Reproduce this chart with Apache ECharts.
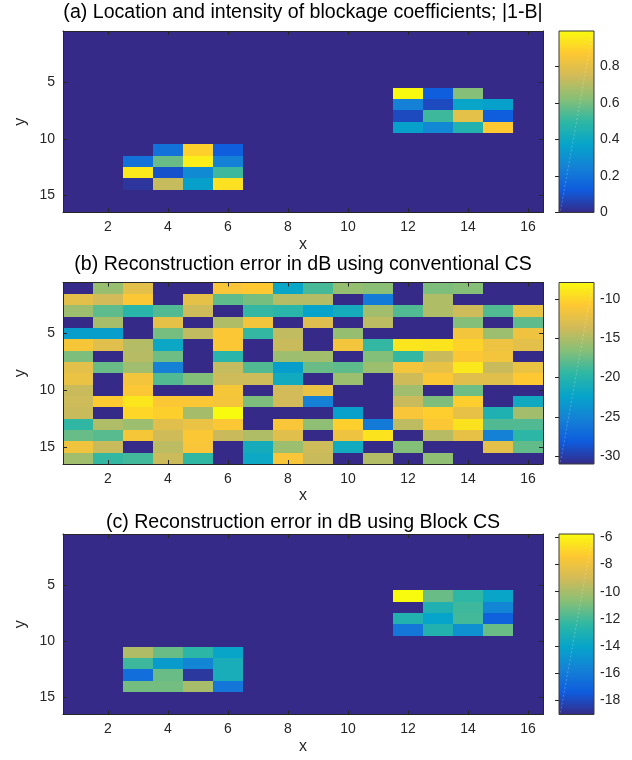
<!DOCTYPE html>
<html>
<head>
<meta charset="utf-8">
<script src="https://cdn.jsdelivr.net/npm/echarts@6/dist/echarts.min.js"></script>
<style>
html,body{margin:0;padding:0;background:#fff;}
#chart{width:632px;height:760px;}
</style>
</head>
<body>
<div id="chart"></div>
<script>
// ---------- data ----------
const xCategories = ['1','2','3','4','5','6','7','8','9','10','11','12','13','14','15','16'];
const yCategories = ['1','2','3','4','5','6','7','8','9','10','11','12','13','14','15','16'];
const xTickLabels = ['2','4','6','8','10','12','14','16'];
const yTickLabels = ['5','10','15'];

const panelTitles = [
  '(a) Location and intensity of blockage coefficients; |1-B|',
  '(b) Reconstruction error in dB using conventional CS',
  '(c) Reconstruction error in dB using Block CS'
];

const rangeA = [0, 0.995];
const rangeB = [-31.0, -7.9];
const rangeC = [-19.05, -5.75];

const cbarTicksA = [0, 0.2, 0.4, 0.6, 0.8];
const cbarTicksB = [-30, -25, -20, -15, -10];
const cbarTicksC = [-18, -16, -14, -12, -10, -8, -6];

// (a) |1-B| : rows are y = 1..16, columns x = 1..16
const blockageA = [
  [0,0,0,0,0,0,0,0,0,0,0,0,0,0,0,0],
  [0,0,0,0,0,0,0,0,0,0,0,0,0,0,0,0],
  [0,0,0,0,0,0,0,0,0,0,0,0,0,0,0,0],
  [0,0,0,0,0,0,0,0,0,0,0,0,0,0,0,0],
  [0,0,0,0,0,0,0,0,0,0,0,0,0,0,0,0],
  [0,0,0,0,0,0,0,0,0,0,0,0.99,0.13,0.62,0,0],
  [0,0,0,0,0,0,0,0,0,0,0,0.25,0.08,0.38,0.36,0],
  [0,0,0,0,0,0,0,0,0,0,0,0.08,0.52,0.80,0.13,0],
  [0,0,0,0,0,0,0,0,0,0,0,0.36,0.27,0.46,0.87,0],
  [0,0,0,0,0,0,0,0,0,0,0,0,0,0,0,0],
  [0,0,0,0.20,0.89,0.13,0,0,0,0,0,0,0,0,0,0],
  [0,0,0.20,0.58,0.96,0.25,0,0,0,0,0,0,0,0,0,0],
  [0,0,0.95,0.10,0.28,0.52,0,0,0,0,0,0,0,0,0,0],
  [0,0,0.03,0.73,0.36,0.93,0,0,0,0,0,0,0,0,0,0],
  [0,0,0,0,0,0,0,0,0,0,0,0,0,0,0,0],
  [0,0,0,0,0,0,0,0,0,0,0,0,0,0,0,0]
];

// (b) conventional CS error, dB
const errorConvB = [
  [-31.0,-15.9,-12.6,-31.0,-31.0,-11.2,-10.8,-22.1,-18.6,-16.0,-16.4,-31.0,-16.9,-16.6,-31.0,-31.0],
  [-12.6,-13.6,-11.0,-31.0,-12.4,-17.9,-17.1,-14.8,-14.8,-31.0,-25.7,-31.0,-15.0,-31.0,-31.0,-31.0],
  [-15.7,-17.9,-19.8,-18.3,-13.8,-31.0,-19.3,-19.8,-22.4,-21.2,-15.5,-18.3,-15.0,-13.8,-18.3,-12.2],
  [-31.0,-15.3,-31.0,-12.4,-31.0,-15.0,-11.5,-31.0,-12.9,-31.0,-14.5,-31.0,-31.0,-16.7,-31.0,-17.9],
  [-22.8,-22.8,-31.0,-17.1,-14.3,-11.0,-19.3,-14.3,-31.0,-16.0,-31.0,-31.0,-31.0,-11.5,-15.8,-11.8],
  [-11.3,-12.7,-14.8,-21.9,-31.0,-10.9,-31.0,-14.0,-31.0,-11.5,-19.3,-9.1,-9.2,-10.2,-11.9,-12.6],
  [-16.9,-31.0,-14.7,-17.4,-31.0,-19.8,-31.0,-15.7,-15.5,-31.0,-16.7,-19.3,-14.0,-10.9,-11.5,-31.0],
  [-12.6,-17.5,-15.6,-25.2,-31.0,-14.2,-18.3,-22.8,-17.5,-17.9,-15.8,-11.5,-12.2,-9.0,-14.0,-12.0],
  [-12.1,-31.0,-11.5,-18.3,-16.7,-13.8,-13.8,-21.5,-31.0,-15.8,-31.0,-13.7,-10.9,-12.7,-12.7,-10.8],
  [-14.0,-31.0,-10.9,-31.0,-31.0,-11.3,-31.0,-13.6,-12.1,-31.0,-31.0,-15.6,-31.0,-17.4,-31.0,-31.0],
  [-13.8,-10.7,-9.1,-10.9,-10.9,-11.4,-16.9,-13.6,-25.2,-31.0,-31.0,-14.0,-16.9,-10.5,-31.0,-21.6],
  [-14.0,-31.0,-10.0,-10.4,-15.4,-7.9,-31.0,-31.0,-31.0,-22.6,-31.0,-11.2,-10.5,-12.3,-20.5,-15.5],
  [-19.4,-15.0,-15.8,-12.7,-12.1,-10.9,-31.0,-11.2,-16.3,-10.4,-25.7,-14.4,-10.9,-9.3,-18.3,-18.3],
  [-17.6,-18.1,-11.3,-13.7,-10.9,-14.0,-15.0,-12.7,-31.0,-11.8,-9.2,-31.0,-14.7,-12.3,-25.2,-19.6],
  [-11.6,-14.0,-31.0,-14.5,-11.2,-31.0,-21.2,-15.8,-13.8,-21.5,-31.0,-16.7,-31.0,-31.0,-12.6,-17.8],
  [-15.6,-19.3,-18.8,-13.9,-19.4,-31.0,-21.8,-11.2,-14.0,-31.0,-14.9,-31.0,-16.2,-31.0,-31.0,-31.0]
];

// (c) Block CS error, dB
const errorBlockC = [
  [-19.05,-19.05,-19.05,-19.05,-19.05,-19.05,-19.05,-19.05,-19.05,-19.05,-19.05,-19.05,-19.05,-19.05,-19.05,-19.05],
  [-19.05,-19.05,-19.05,-19.05,-19.05,-19.05,-19.05,-19.05,-19.05,-19.05,-19.05,-19.05,-19.05,-19.05,-19.05,-19.05],
  [-19.05,-19.05,-19.05,-19.05,-19.05,-19.05,-19.05,-19.05,-19.05,-19.05,-19.05,-19.05,-19.05,-19.05,-19.05,-19.05],
  [-19.05,-19.05,-19.05,-19.05,-19.05,-19.05,-19.05,-19.05,-19.05,-19.05,-19.05,-19.05,-19.05,-19.05,-19.05,-19.05],
  [-19.05,-19.05,-19.05,-19.05,-19.05,-19.05,-19.05,-19.05,-19.05,-19.05,-19.05,-19.05,-19.05,-19.05,-19.05,-19.05],
  [-19.05,-19.05,-19.05,-19.05,-19.05,-19.05,-19.05,-19.05,-19.05,-19.05,-19.05,-5.75,-11.3,-12.4,-14.0,-19.05],
  [-19.05,-19.05,-19.05,-19.05,-19.05,-19.05,-19.05,-19.05,-19.05,-19.05,-19.05,-19.05,-13.0,-12.1,-15.5,-19.05],
  [-19.05,-19.05,-19.05,-19.05,-19.05,-19.05,-19.05,-19.05,-19.05,-19.05,-19.05,-12.9,-14.1,-12.0,-17.1,-19.05],
  [-19.05,-19.05,-19.05,-19.05,-19.05,-19.05,-19.05,-19.05,-19.05,-19.05,-19.05,-16.2,-12.9,-15.0,-11.3,-19.05],
  [-19.05,-19.05,-19.05,-19.05,-19.05,-19.05,-19.05,-19.05,-19.05,-19.05,-19.05,-19.05,-19.05,-19.05,-19.05,-19.05],
  [-19.05,-19.05,-9.8,-11.3,-12.5,-14.0,-19.05,-19.05,-19.05,-19.05,-19.05,-19.05,-19.05,-19.05,-19.05,-19.05],
  [-19.05,-19.05,-12.1,-14.5,-15.5,-13.3,-19.05,-19.05,-19.05,-19.05,-19.05,-19.05,-19.05,-19.05,-19.05,-19.05],
  [-19.05,-19.05,-16.6,-11.3,-18.6,-13.3,-19.05,-19.05,-19.05,-19.05,-19.05,-19.05,-19.05,-19.05,-19.05,-19.05],
  [-19.05,-19.05,-11.1,-11.1,-10.0,-16.2,-19.05,-19.05,-19.05,-19.05,-19.05,-19.05,-19.05,-19.05,-19.05,-19.05],
  [-19.05,-19.05,-19.05,-19.05,-19.05,-19.05,-19.05,-19.05,-19.05,-19.05,-19.05,-19.05,-19.05,-19.05,-19.05,-19.05],
  [-19.05,-19.05,-19.05,-19.05,-19.05,-19.05,-19.05,-19.05,-19.05,-19.05,-19.05,-19.05,-19.05,-19.05,-19.05,-19.05]
];

// parula colormap
const parula = ['#352A87','#0F5CDD','#1481D6','#06A4CA','#2EB7A4','#87BF77','#D1BB59','#FEC832','#F9FB0E'];

// ---------- layout ----------
const FONT = 'Helvetica, "Liberation Sans", Arial, sans-serif';
const AX = '#262626';
const TICK_FS = 14;
const panels = [
  {top: 31,  height: 181.5, matrix: blockageA,  range: rangeA, ticks: cbarTicksA, title: panelTitles[0], titleY: 12},
  {top: 282.5, height: 181.5, matrix: errorConvB, range: rangeB, ticks: cbarTicksB, title: panelTitles[1], titleY: 264},
  {top: 534, height: 180.5, matrix: errorBlockC, range: rangeC, ticks: cbarTicksC, title: panelTitles[2], titleY: 522}
];
const plotLeft = 63, plotWidth = 480;
const cbLeft = 559, cbWidth = 35;

const grid = [], xAxis = [], yAxis = [], series = [], visualMap = [], graphic = [];

const xShow = (i, v) => xTickLabels.indexOf(String(v)) >= 0;
const yShow = (i, v) => yTickLabels.indexOf(String(v)) >= 0;

panels.forEach((p) => grid.push({left: plotLeft, top: p.top, width: plotWidth, height: p.height}));
panels.forEach((p) => grid.push({left: cbLeft, top: p.top, width: cbWidth, height: p.height}));

panels.forEach((p, i) => {
  xAxis.push({
    type: 'category', gridIndex: i, data: xCategories, position: 'bottom', z: 5,
    axisLine: {show: true, lineStyle: {color: AX, width: 1}},
    axisTick: {show: true, inside: true, length: 4, alignWithLabel: true, interval: xShow, lineStyle: {color: AX}},
    axisLabel: {interval: xShow, margin: 8, fontSize: TICK_FS, color: AX, fontFamily: FONT},
    name: 'x', nameLocation: 'middle', nameGap: 24,
    nameTextStyle: {fontSize: 16, color: AX, fontFamily: FONT},
    splitLine: {show: false}
  });
  xAxis.push({
    type: 'category', gridIndex: i, data: xCategories, position: 'top', z: 5,
    axisLine: {show: true, lineStyle: {color: AX, width: 1}},
    axisTick: {show: true, inside: true, length: 4, alignWithLabel: true, interval: xShow, lineStyle: {color: AX}},
    axisLabel: {show: false}, splitLine: {show: false}
  });
  yAxis.push({
    type: 'category', gridIndex: i, data: yCategories, inverse: true, position: 'left', z: 5,
    axisLine: {show: true, lineStyle: {color: AX, width: 1}},
    axisTick: {show: true, inside: true, length: 4, alignWithLabel: true, interval: yShow, lineStyle: {color: AX}},
    axisLabel: {interval: yShow, margin: 8, fontSize: TICK_FS, color: AX, fontFamily: FONT},
    name: 'y', nameLocation: 'middle', nameGap: 32,
    nameTextStyle: {fontSize: 16, color: AX, fontFamily: FONT},
    splitLine: {show: false}
  });
  yAxis.push({
    type: 'category', gridIndex: i, data: yCategories, inverse: true, position: 'right', z: 5,
    axisLine: {show: true, lineStyle: {color: AX, width: 1}},
    axisTick: {show: true, inside: true, length: 4, alignWithLabel: true, interval: yShow, lineStyle: {color: AX}},
    axisLabel: {show: false}, splitLine: {show: false}
  });
});

panels.forEach((p, i) => {
  xAxis.push({type: 'value', gridIndex: 3 + i, min: 0, max: 1, show: false});
  yAxis.push({
    type: 'value', gridIndex: 3 + i, min: p.range[0], max: p.range[1], position: 'right', z: 5,
    axisLine: {show: false},
    axisTick: {show: true, inside: true, length: 4, customValues: p.ticks, lineStyle: {color: AX}},
    axisLabel: {show: true, customValues: p.ticks, margin: 6, fontSize: TICK_FS, color: AX, fontFamily: FONT,
      formatter: v => String(v)},
    splitLine: {show: false}
  });
});

function cellRender(params, api) {
  const c = api.coord([api.value(0), api.value(1)]);
  const s = api.size([1, 1]);
  const x0 = Math.round(c[0] - s[0] / 2), x1 = Math.round(c[0] + s[0] / 2);
  const y0 = Math.round(c[1] - s[1] / 2), y1 = Math.round(c[1] + s[1] / 2);
  return {type: 'rect', shape: {x: x0, y: y0, width: x1 - x0, height: y1 - y0},
    style: {fill: api.visual('color')}};
}

panels.forEach((p, i) => {
  const data = [];
  p.matrix.forEach((row, r) => row.forEach((v, c) => data.push([c, r, v])));
  series.push({
    type: 'custom', xAxisIndex: 2 * i, yAxisIndex: 2 * i, data: data, silent: true,
    encode: {x: 0, y: 1}, renderItem: cellRender
  });
  visualMap.push({
    type: 'continuous', show: false, seriesIndex: i, dimension: 2,
    min: p.range[0], max: p.range[1], inRange: {color: parula}
  });
});

const gradStops = parula.map((c, k) => ({offset: k / (parula.length - 1), color: c}));

panels.forEach((p, i) => {
  series.push({
    type: 'custom', xAxisIndex: 6 + i, yAxisIndex: 6 + i, silent: true,
    data: [[0, p.range[0], p.range[1]]],
    encode: {x: 0, y: [1, 2]},
    renderItem: function (params, api) {
      const pb = api.coord([0, api.value(1)]);
      const pt = api.coord([1, api.value(2)]);
      const x = pb[0], y = pt[1], w = pt[0] - pb[0], h = pb[1] - pt[1];
      return {
        type: 'group',
        children: [
          {type: 'rect', shape: {x: x, y: y, width: w, height: h},
            style: {fill: new echarts.graphic.LinearGradient(0, 1, 0, 0, gradStops), stroke: '#3a3a3a', lineWidth: 1}},
          {type: 'line', shape: {x1: x + 1.5, y1: y + h - 2, x2: x + w - 1.5, y2: y + 2},
            style: {stroke: 'rgba(255,255,255,0.35)', lineWidth: 0.7, lineDash: [2, 2]}}
        ]
      };
    }
  });
  graphic.push({
    type: 'text', x: plotLeft + plotWidth / 2, y: p.titleY + 0.5, silent: true,
    style: {text: p.title, fill: '#000', fontSize: 19.6, fontFamily: FONT, align: 'center', verticalAlign: 'middle'}
  });
});

const chart = echarts.init(document.getElementById('chart'), null, {renderer: 'canvas'});
chart.setOption({
  animation: false,
  backgroundColor: '#ffffff',
  grid: grid, xAxis: xAxis, yAxis: yAxis,
  visualMap: visualMap, series: series, graphic: graphic
});
</script>
</body>
</html>
